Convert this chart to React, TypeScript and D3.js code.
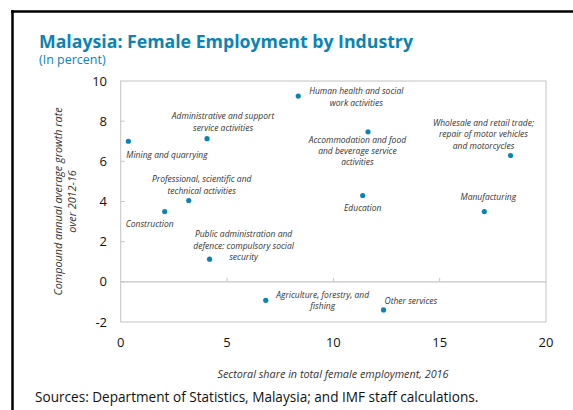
import React from 'react';
import * as d3 from 'd3';

// sector names, share of female employment 2016 (%), CAGR 2012-16 (%)
const sectors = [
  'Mining and quarrying',
  'Administrative and support service activities',
  'Human health and social work activities',
  'Accommodation and food and beverage service activities',
  'Wholesale and retail trade; repair of motor vehicles and motorcycles',
  'Professional, scientific and technical activities',
  'Construction',
  'Education',
  'Manufacturing',
  'Public administration and defence: compulsory social security',
  'Agriculture, forestry, and fishing',
  'Other services',
];
const share = [0.36, 4.06, 8.35, 11.63, 18.33, 3.2, 2.07, 11.38, 17.1, 4.18, 6.82, 12.36];
const growth = [7.0, 7.13, 9.25, 7.47, 6.29, 4.05, 3.5, 4.3, 3.5, 1.13, -0.92, -1.4];

const xTicks = [0, 5, 10, 15, 20];
const yTicks = [-2, 0, 2, 4, 6, 8, 10];

// how each label is broken into lines and where it sits relative to its dot
const labelLayout = [
  { lines: ['Mining and quarrying'], anchor: 'start', dx: -2, dy: 17, lh: 11 },
  { lines: ['Administrative and support', 'service activities'], anchor: 'middle', dx: 16, dy: -20, lh: 12 },
  { lines: ['Human health and social', 'work activities'], anchor: 'middle', dx: 58, dy: -2, lh: 11.5 },
  { lines: ['Accommodation and food', 'and beverage service', 'activities'], anchor: 'middle', dx: -10.6, dy: 11.5, lh: 11 },
  { lines: ['Wholesale and retail trade;', 'repair of motor vehicles', 'and motorcycles'], anchor: 'middle', dx: -27, dy: -30, lh: 11.5 },
  { lines: ['Professional, scientific and', 'technical activities'], anchor: 'middle', dx: 13, dy: -18, lh: 12 },
  { lines: ['Construction'], anchor: 'middle', dx: -15, dy: 15, lh: 11 },
  { lines: ['Education'], anchor: 'middle', dx: 0, dy: 16, lh: 11 },
  { lines: ['Manufacturing'], anchor: 'middle', dx: 4, dy: -12, lh: 11 },
  { lines: ['Public administration and', 'defence: compulsory social', 'security'], anchor: 'middle', dx: 34, dy: -22, lh: 11.5 },
  { lines: ['Agriculture, forestry, and', 'fishing'], anchor: 'middle', dx: 57, dy: -2, lh: 11 },
  { lines: ['Other services'], anchor: 'start', dx: 1, dy: -6, lh: 11 },
];

const W = 573;
const H = 410;
const plot = { left: 120.7, right: 546, top: 81, bottom: 322 };
const font = '"Open Sans", "Noto Sans", sans-serif';
const blue = '#0b84b3';
const gridGray = '#c4c4c4';

export default function App() {
  const x = d3.scaleLinear().domain([0, 20]).range([plot.left, plot.right]);
  const y = d3.scaleLinear().domain([-2, 10]).range([plot.bottom, plot.top]);
  const midY = (plot.top + plot.bottom) / 2;

  return (
    <svg
      width={W}
      height={H}
      style={{ position: 'absolute', left: 0, top: 0, background: '#fff' }}
      fontFamily={font}
    >
      {/* frame */}
      <line x1={11} x2={W} y1={11.5} y2={11.5} stroke="#000" strokeWidth={2.5} />
      <line x1={12.5} x2={12.5} y1={10} y2={H} stroke="#000" strokeWidth={2.5} />

      <text x={39} y={47.5} fill={blue} fontSize={17.7} fontWeight="bold">
        Malaysia: Female Employment by Industry
      </text>
      <text x={39} y={64} fill={blue} fontSize={12.5}>(In percent)</text>

      {/* plot box */}
      <rect
        x={plot.left}
        y={plot.top}
        width={plot.right - plot.left}
        height={plot.bottom - plot.top}
        fill="none"
        stroke={gridGray}
        strokeWidth={1}
      />
      <line x1={plot.left} x2={plot.right} y1={y(0)} y2={y(0)} stroke={gridGray} strokeWidth={1.2} />

      {yTicks.map(t => (
        <g key={'y' + t}>
          {t > -2 && t < 10 && (
            <line x1={plot.left} x2={plot.left + 4} y1={y(t)} y2={y(t)} stroke={gridGray} />
          )}
          <text x={107} y={y(t) + 4.5} textAnchor="end" fontSize={13} fill="#111">
            {t}
          </text>
        </g>
      ))}
      {xTicks.map(t => (
        <g key={'x' + t}>
          {t > 0 && t < 20 && (
            <line x1={x(t)} x2={x(t)} y1={y(0)} y2={y(0) - 4} stroke={gridGray} />
          )}
          <text x={x(t)} y={347} textAnchor="middle" fontSize={13} fill="#111">
            {t}
          </text>
        </g>
      ))}

      {/* points and labels */}
      {sectors.map((s, i) => {
        const px = x(share[i]);
        const py = y(growth[i]);
        const lay = labelLayout[i];
        return (
          <g key={s}>
            <circle cx={px} cy={py} r={2.6} fill={blue} />
            <text
              textAnchor={lay.anchor}
              fontSize={8.5}
              fontStyle="italic"
              fill="#333"
            >
              {lay.lines.map((ln, j) => (
                <tspan key={j} x={px + lay.dx} y={py + lay.dy + j * lay.lh}>
                  {ln}
                </tspan>
              ))}
            </text>
          </g>
        );
      })}

      {/* axis titles */}
      <text
        transform={`translate(62,${midY}) rotate(-90)`}
        textAnchor="middle"
        fontSize={10.8}
        fontStyle="italic"
        fill="#333"
      >
        Compound annual average growth rate
      </text>
      <text
        transform={`translate(75.5,${midY}) rotate(-90)`}
        textAnchor="middle"
        fontSize={10.8}
        fontStyle="italic"
        fill="#333"
      >
        over 2012-16
      </text>
      <text x={333} y={378} textAnchor="middle" fontSize={10.8} fontStyle="italic" fill="#333">
        Sectoral share in total female employment, 2016
      </text>

      <text x={35} y={402} fontSize={13.6} fill="#111">
        Sources: Department of Statistics, Malaysia; and IMF staff calculations.
      </text>
    </svg>
  );
}
